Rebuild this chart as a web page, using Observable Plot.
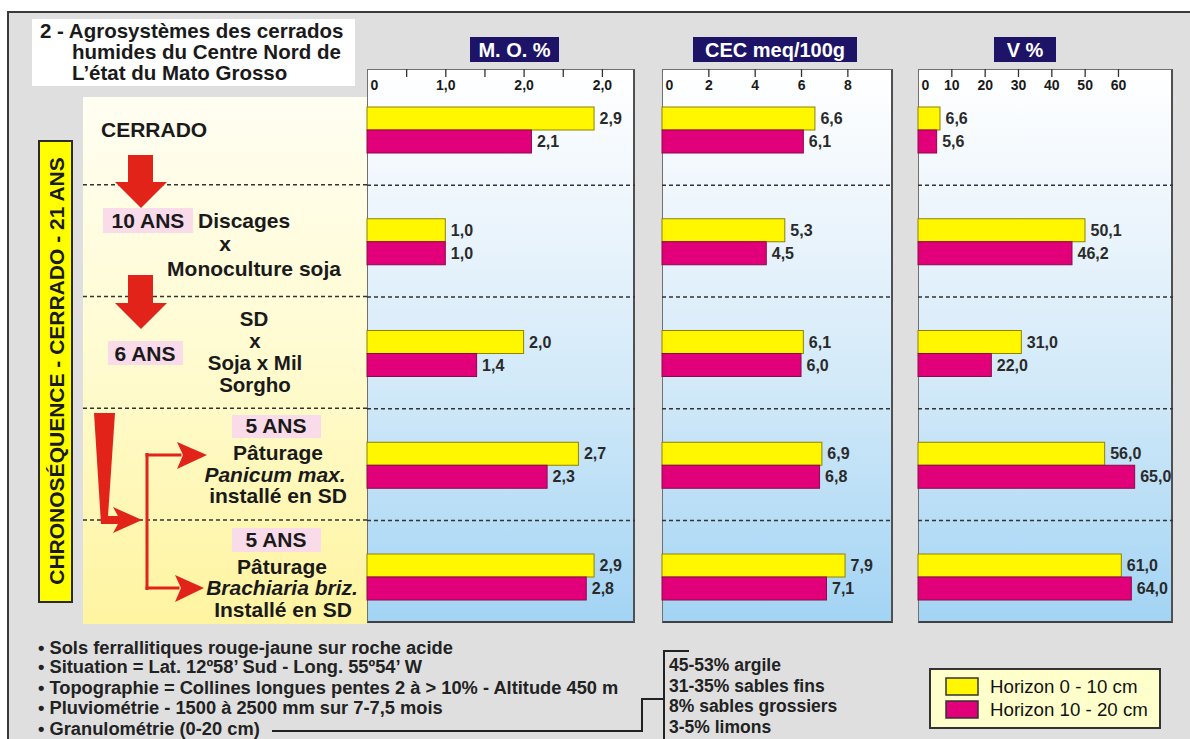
<!DOCTYPE html>
<html><head><meta charset="utf-8">
<script src="https://cdn.jsdelivr.net/npm/d3@7"></script>
<script src="https://cdn.jsdelivr.net/npm/@observablehq/plot@0.6"></script>
<style>
body{margin:0;background:#fff;font-family:"Liberation Sans",Arial,sans-serif;}
#root{position:relative;width:1190px;height:739px;overflow:hidden;}
.abs{position:absolute;}
.panelbg{position:absolute;box-sizing:border-box;border:1px solid #707070;border-right:2px solid #505050;border-bottom:2px solid #404040;
 background:linear-gradient(#ffffff 0%,#eaf4fc 30%,#cfe8f8 60%,#a3d4f4 100%);}
</style></head><body><div id="root"></div>
<script>
// ---------- data ----------
const categories = ["CERRADO", "10 ANS Discages x Monoculture soja", "6 ANS SD x Soja x Mil Sorgho", "5 ANS Pâturage Panicum max.", "5 ANS Pâturage Brachiaria briz."];
const horizons = ["Horizon 0 - 10 cm", "Horizon 10 - 20 cm"];
const horizonColors = ["#fff700", "#e2007a"];
const horizonStrokes = ["#8f8200", "#8a0a4a"];
const moValues0 = [2.9, 1.0, 2.0, 2.7, 2.9];
const moValues1 = [2.1, 1.0, 1.4, 2.3, 2.8];
const cecValues0 = [6.6, 5.3, 6.1, 6.9, 7.9];
const cecValues1 = [6.1, 4.5, 6.0, 6.8, 7.1];
const vValues0 = [6.6, 50.1, 31.0, 56.0, 61.0];
const vValues1 = [5.6, 46.2, 22.0, 65.0, 64.0];
const moTicks = [0.5, 1, 1.5, 2, 2.5, 3];
const moLabelValues = [0, 1, 2, 3];
const moLabels = ["0", "1,0", "2,0", "2,0"];
const cecTicks = [2, 4, 6, 8];
const cecLabelValues = [0, 2, 4, 6, 8];
const cecLabels = ["0", "2", "4", "6", "8"];
const vTicks = [10, 20, 30, 40, 50, 60];
const vLabelValues = [0, 10, 20, 30, 40, 50, 60];
const vLabels = ["0", "10", "20", "30", "40", "50", "60"];
const panelTitles = ["M. O. %", "CEC meq/100g", "V %"];
const notes = ["• Sols ferrallitiques rouge-jaune sur roche acide",
  "• Situation = Lat. 12º58’ Sud - Long. 55º54’ W",
  "• Topographie = Collines longues pentes 2 à > 10% - Altitude 450 m",
  "• Pluviométrie - 1500 à 2500 mm sur 7-7,5 mois",
  "• Granulométrie (0-20 cm)"];
const granulo = ["45-53% argile", "31-35% sables fins", "8% sables grossiers", "3-5% limons"];

// ---------- layout ----------
const FONT = "Liberation Sans, Arial, sans-serif";
const panelTop = 69, panelH = 554, rowTop = 73, rowH = 111.75;
const panels = [
  {left: 367, w: 268, max: 268 / 78.3, v0: moValues0, v1: moValues1, ticks: moTicks, lv: moLabelValues, lt: moLabels, title: panelTitles[0], hx: 470, hw: 89},
  {left: 662, w: 231, max: 231 / 23.17, v0: cecValues0, v1: cecValues1, ticks: cecTicks, lv: cecLabelValues, lt: cecLabels, title: panelTitles[1], hx: 693, hw: 164},
  {left: 918, w: 255, max: 255 / 3.333, v0: vValues0, v1: vValues1, ticks: vTicks, lv: vLabelValues, lt: vLabels, title: panelTitles[2], hx: 994, hw: 62}
];
const fmt = v => d3.format(".1f")(v).replace(".", ",");

const root = document.getElementById("root");

// ---------- decoration svg ----------
const svg = d3.create("svg").attr("width", 1190).attr("height", 739).attr("class", "abs")
  .style("left", "0px").style("top", "0px").style("font-family", FONT);
const defs = svg.append("defs");
const lg = defs.append("linearGradient").attr("id", "yel").attr("x1", 0).attr("x2", 0).attr("y1", 0).attr("y2", 1);
lg.append("stop").attr("offset", "0%").attr("stop-color", "#fffef2");
lg.append("stop").attr("offset", "50%").attr("stop-color", "#fffbd0");
lg.append("stop").attr("offset", "100%").attr("stop-color", "#fff4a0");

svg.append("rect").attr("x", 8).attr("y", 12).attr("width", 1200).attr("height", 740)
  .attr("fill", "#dfdfdf").attr("stroke", "#3a3a3a").attr("stroke-width", 2);
// title
svg.append("rect").attr("x", 32).attr("y", 19).attr("width", 323).attr("height", 67).attr("fill", "#fff");
[["2 - Agrosystèmes des cerrados", 40, 38], ["humides du Centre Nord de", 72, 59], ["L’état du Mato Grosso", 72, 80]]
  .forEach(([t, x, y]) => svg.append("text").attr("x", x).attr("y", y).attr("font-size", 20.5).attr("font-weight", "bold").attr("fill", "#1a1a1a").text(t));
// left panel
svg.append("rect").attr("x", 83).attr("y", 97).attr("width", 284).attr("height", 527).attr("fill", "url(#yel)");
for (let k = 1; k < 5; k++) {
  svg.append("line").attr("x1", 83).attr("x2", 367).attr("y1", rowTop + k * rowH).attr("y2", rowTop + k * rowH)
    .attr("stroke", "#333").attr("stroke-width", 1.3).attr("stroke-dasharray", "4,3");
}
// chronosequence label
svg.append("rect").attr("x", 39).attr("y", 141).attr("width", 33).attr("height", 461).attr("fill", "#ffff00").attr("stroke", "#2a2a2a").attr("stroke-width", 2);
svg.append("text").attr("transform", "translate(56,371) rotate(-90)").attr("text-anchor", "middle").attr("dominant-baseline", "central")
  .attr("font-size", 21).attr("font-weight", "bold").attr("fill", "#1a1a1a").text("CHRONOSÉQUENCE - CERRADO - 21 ANS");
// pink boxes
[[103, 208, 90, 25], [108, 341, 75, 24], [232, 415, 89, 23], [232, 528, 89, 24]]
  .forEach(([x, y, w, h]) => svg.append("rect").attr("x", x).attr("y", y).attr("width", w).attr("height", h).attr("fill", "#f9dbea"));
const leftTexts = [
  ["CERRADO", 101, 137, "start", false, 21],
  ["10 ANS", 148, 228, "middle", false, 21],
  ["Discages", 198, 228, "start", false, 21],
  ["x", 225, 251, "middle", false, 21],
  ["Monoculture soja", 254, 276, "middle", false, 21],
  ["SD", 254, 326, "middle", false, 20.5],
  ["x", 255, 348, "middle", false, 20.5],
  ["Soja x Mil", 255, 370, "middle", false, 20.5],
  ["Sorgho", 255, 392, "middle", false, 20.5],
  ["6 ANS", 145, 361, "middle", false, 21],
  ["5 ANS", 276, 433, "middle", false, 21],
  ["Pâturage", 278, 460, "middle", false, 21],
  ["Panicum max.", 275, 482, "middle", true, 21],
  ["installé en SD", 278, 503, "middle", false, 21],
  ["5 ANS", 276, 547, "middle", false, 21],
  ["Pâturage", 282, 574, "middle", false, 21],
  ["Brachiaria briz.", 282, 595, "middle", true, 21],
  ["Installé en SD", 283, 617, "middle", false, 21]
];
leftTexts.forEach(([t, x, y, a, it, fs]) => svg.append("text").attr("x", x).attr("y", y).attr("text-anchor", a)
  .attr("font-size", fs).attr("font-weight", "bold").attr("font-style", it ? "italic" : "normal").attr("fill", "#1a1a1a").text(t));
// red arrows
const RED = "#e2231a";
const poly = pts => svg.append("polygon").attr("points", pts.map(p => p.join(",")).join(" ")).attr("fill", RED);
poly([[128, 155], [153, 155], [153, 182], [167, 182], [141, 208], [115, 182], [128, 182]]);
poly([[128, 275], [153, 275], [153, 303], [167, 303], [141, 329], [115, 303], [128, 303]]);
poly([[94, 413], [115, 413], [108, 516], [118, 516], [113, 507], [142, 520], [113, 533], [118, 524], [101, 524]]);
svg.append("rect").attr("x", 145.5).attr("y", 453).attr("width", 3).attr("height", 137).attr("fill", RED);
svg.append("rect").attr("x", 145.5).attr("y", 453.5).attr("width", 36).attr("height", 3).attr("fill", RED);
svg.append("rect").attr("x", 145.5).attr("y", 586.5).attr("width", 34).attr("height", 3).attr("fill", RED);
poly([[177, 442], [207, 455], [177, 469], [183, 455]]);
poly([[175, 575], [204, 588], [175, 602], [181, 588]]);
// panel headers
panels.forEach(p => {
  svg.append("rect").attr("x", p.hx).attr("y", 37).attr("width", p.hw).attr("height", 25).attr("fill", "#1d1468");
  svg.append("text").attr("x", p.hx + p.hw / 2).attr("y", 56.5).attr("text-anchor", "middle").attr("font-size", 20)
    .attr("font-weight", "bold").attr("fill", "#fff").text(p.title);
});
// notes
notes.forEach((t, i) => svg.append("text").attr("x", 38).attr("y", [654, 673, 694, 714, 735][i]).attr("font-size", 18.3)
  .attr("font-weight", "bold").attr("fill", "#222").text(t));
granulo.forEach((t, i) => svg.append("text").attr("x", 669).attr("y", [671, 692, 712, 733][i]).attr("font-size", 17.5)
  .attr("font-weight", "bold").attr("fill", "#222").text(t));
svg.append("polyline").attr("points", "272,731 642,731 642,699 664,699").attr("fill", "none").attr("stroke", "#222").attr("stroke-width", 2);
svg.append("polyline").attr("points", "689,651 664,651 664,745").attr("fill", "none").attr("stroke", "#222").attr("stroke-width", 2);
// legend
svg.append("rect").attr("x", 930).attr("y", 669).attr("width", 230).attr("height", 59).attr("fill", "#ffffcc").attr("stroke", "#333").attr("stroke-width", 2);
horizons.forEach((h, i) => {
  svg.append("rect").attr("x", 946).attr("y", 678 + i * 23).attr("width", 32).attr("height", 17).attr("fill", horizonColors[i]).attr("stroke", "#333").attr("stroke-width", 1.5);
  svg.append("text").attr("x", 990).attr("y", 693 + i * 23).attr("font-size", 18.7).attr("fill", "#111").text(h);
});
root.appendChild(svg.node());

// ---------- panels with Plot ----------
panels.forEach(p => {
  const bg = document.createElement("div");
  bg.className = "panelbg";
  Object.assign(bg.style, {left: p.left + "px", top: panelTop + "px", width: p.w + "px", height: panelH + "px"});
  root.appendChild(bg);
  const d0 = categories.map((c, i) => ({cat: c, v: p.v0[i]}));
  const d1 = categories.map((c, i) => ({cat: c, v: p.v1[i]}));
  const labelMap = new Map(p.lv.map((v, i) => [v, p.lt[i]]));
  const chart = Plot.plot({
    width: p.w, height: panelH, margin: 0,
    x: {domain: [0, p.max], range: [0, p.w], axis: null, label: null},
    y: {domain: categories, range: [rowTop - panelTop, rowTop - panelTop + 5 * rowH], padding: 0, round: false, axis: null, label: null},
    style: {background: "transparent", overflow: "visible", fontFamily: FONT, fontSize: "14px", fontWeight: "bold"},
    marks: [
      Plot.ruleY(categories.slice(1), {y: d => d, dy: -rowH / 2, stroke: "#333", strokeWidth: 1.3, strokeDasharray: "4,3"}),
      Plot.barX(d0, {x: "v", y: "cat", fill: horizonColors[0], stroke: horizonStrokes[0], strokeWidth: 1, insetTop: 34, insetBottom: rowH - 57}),
      Plot.barX(d1, {x: "v", y: "cat", fill: horizonColors[1], stroke: horizonStrokes[1], strokeWidth: 1, insetTop: 57, insetBottom: rowH - 80}),
      Plot.text(d0, {x: "v", y: "cat", text: d => fmt(d.v), dx: 5, dy: 45.5 - rowH / 2, textAnchor: "start", fontSize: 16, fontWeight: "bold", fill: "#2a2a2a"}),
      Plot.text(d1, {x: "v", y: "cat", text: d => fmt(d.v), dx: 5, dy: 68.5 - rowH / 2, textAnchor: "start", fontSize: 16, fontWeight: "bold", fill: "#2a2a2a"}),
      Plot.axisX(p.ticks, {anchor: "bottom", frameAnchor: "top", tickSize: 8, tickFormat: () => "", label: null, stroke: "#333", strokeWidth: 1.3}),
      Plot.axisX(p.lv.slice(0, 1), {anchor: "bottom", frameAnchor: "top", tickSize: 0, tickPadding: 11, dx: 3, textAnchor: "start", label: null, tickFormat: d => labelMap.get(d), fill: "#1a1a1a"}),
      Plot.axisX(p.lv.slice(1), {anchor: "bottom", frameAnchor: "top", tickSize: 0, tickPadding: 11, label: null, tickFormat: d => labelMap.get(d), fill: "#1a1a1a"})
    ]
  });
  chart.classList.add("abs");
  chart.style.left = p.left + "px";
  chart.style.top = panelTop + "px";
  root.appendChild(chart);
});
</script></body></html>
